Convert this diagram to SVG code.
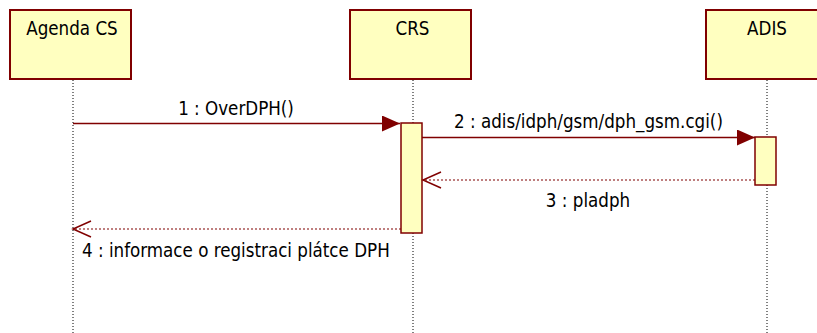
<svg xmlns="http://www.w3.org/2000/svg" width="817" height="333" viewBox="0 0 817 333">
<style>
.box{fill:#FFFFC0;stroke:#800000;stroke-width:2}
.act{fill:#FFFFC0;stroke:#800000;stroke-width:1.5}
.life{stroke:#000;stroke-width:1;stroke-dasharray:1,2;fill:none}
.msg{stroke:#800000;stroke-width:1.5;fill:none}
.ret{stroke:#800000;stroke-width:1.2;stroke-dasharray:2,2;fill:none}
text{font-family:"DejaVu Sans Condensed","DejaVu Sans",sans-serif;font-stretch:condensed;font-size:18.6px;fill:#000}
</style>
<defs>
<marker id="filled" markerUnits="userSpaceOnUse" markerWidth="19" markerHeight="17" refX="18" refY="8" orient="auto">
<path d="M0,0 L18,8 L0,16 z" fill="#800000"/>
</marker>
<marker id="open" markerUnits="userSpaceOnUse" markerWidth="20" markerHeight="18" refX="18" refY="8" orient="auto" overflow="visible">
<path d="M0,0 L18,8 L0,16" fill="none" stroke="#800000" stroke-width="1.5"/>
</marker>
</defs>
<g id="lifelines">
<line class="life" x1="73" y1="80" x2="73" y2="333"/>
<line class="life" x1="413" y1="80" x2="413" y2="333"/>
<line class="life" x1="767" y1="80" x2="767" y2="333"/>
</g>
<g id="agenda">
<rect class="box" x="10" y="10" width="121" height="69"/>
<text x="72" y="35" text-anchor="middle">Agenda CS</text>
</g>
<g id="crs">
<rect class="box" x="350" y="10" width="121" height="69"/>
<text x="412.5" y="35" text-anchor="middle">CRS</text>
<rect class="act" x="401" y="123" width="21" height="110"/>
</g>
<g id="adis">
<rect class="box" x="706" y="10" width="122" height="69"/>
<text x="767" y="35" text-anchor="middle">ADIS</text>
<rect class="act" x="755" y="137" width="21" height="48"/>
</g>
<g id="connectors">
<line class="msg" x1="73" y1="123.5" x2="400" y2="123.5" marker-end="url(#filled)"/>
<text x="236" y="115" text-anchor="middle">1 : OverDPH()</text>
<line class="msg" x1="422" y1="137.5" x2="755" y2="137.5" marker-end="url(#filled)"/>
<text x="588.5" y="128" text-anchor="middle">2 : adis/idph/gsm/dph_gsm.cgi()</text>
<line class="ret" x1="755" y1="180" x2="423" y2="180" marker-end="url(#open)"/>
<text x="588" y="207" text-anchor="middle">3 : pladph</text>
<line class="ret" x1="401" y1="229" x2="73" y2="229" marker-end="url(#open)"/>
<text x="82" y="256.5">4 : informace o registraci plátce DPH</text>
</g>
</svg>
